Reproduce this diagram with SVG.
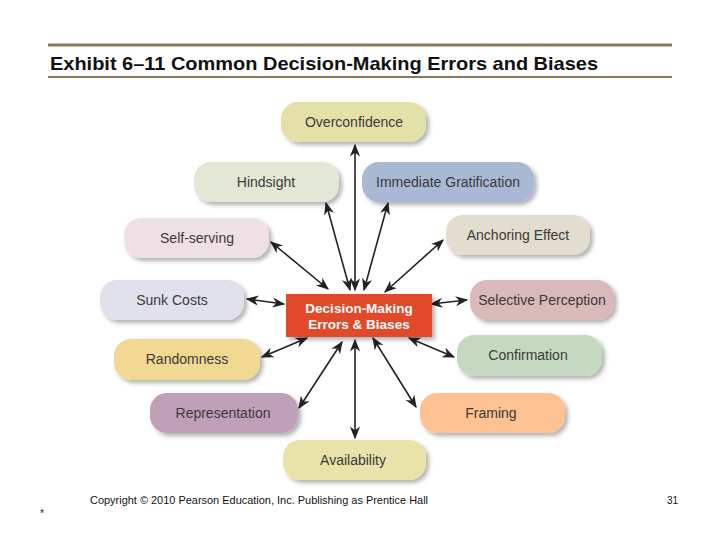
<svg xmlns="http://www.w3.org/2000/svg" width="720" height="540" viewBox="0 0 720 540">
<defs>
<filter id="sh" x="-20%" y="-30%" width="150%" height="170%"><feDropShadow dx="3" dy="3" stdDeviation="2" flood-color="#000" flood-opacity="0.3"/></filter>
<marker id="ah" viewBox="0 0 10 10" refX="9" refY="5" markerWidth="8" markerHeight="8" orient="auto-start-reverse"><path d="M0,1 L10,5 L0,9 L3,5 Z" fill="#222"/></marker>
<style>
.n rect{filter:url(#sh)}
.n text{font-family:"Liberation Sans",Arial,sans-serif;font-size:14px;fill:#3a3a3a;text-anchor:middle}
.c line{stroke:#222;stroke-width:1.6;marker-start:url(#ah);marker-end:url(#ah)}
.t{font-family:"Liberation Sans",Arial,sans-serif}
</style>
</defs>
<rect width="720" height="540" fill="#fff"/>
<line x1="48" y1="45" x2="672" y2="45" stroke="#8b7a55" stroke-width="3"/>
<line x1="48" y1="77" x2="672" y2="77" stroke="#8b7a55" stroke-width="2"/>
<text class="t" x="50" y="70" font-size="19" font-weight="bold" fill="#111" textLength="548" lengthAdjust="spacingAndGlyphs">Exhibit 6–11 Common Decision-Making Errors and Biases</text>
<g class="c">
<line x1="355" y1="145" x2="355" y2="290"/>
<line x1="355" y1="340" x2="355" y2="438"/>
<line x1="326" y1="203" x2="350" y2="290"/>
<line x1="388" y1="203" x2="364" y2="290"/>
<line x1="271" y1="242" x2="328" y2="289"/>
<line x1="443" y1="240" x2="385" y2="292"/>
<line x1="247" y1="299" x2="284" y2="304"/>
<line x1="431" y1="304" x2="467" y2="300"/>
<line x1="262" y1="357" x2="307" y2="338"/>
<line x1="409" y1="338" x2="454" y2="357"/>
<line x1="299" y1="408" x2="342" y2="342"/>
<line x1="416" y1="407" x2="373" y2="338"/>
</g>
<g id="overconfidence" class="n"><rect x="281" y="102" width="145" height="40" rx="17" fill="#e5e0a8"/><text x="354" y="127">Overconfidence</text></g>
<g id="hindsight" class="n"><rect x="194" y="162" width="145" height="40" rx="17" fill="#e3e8d6"/><text x="266" y="187">Hindsight</text></g>
<g id="immediate" class="n"><rect x="362" y="162" width="172" height="40" rx="17" fill="#a9b9d5"/><text x="448" y="187">Immediate Gratification</text></g>
<g id="selfserving" class="n"><rect x="124" y="218" width="145" height="40" rx="17" fill="#efe0e5"/><text x="197" y="243">Self-serving</text></g>
<g id="anchoring" class="n"><rect x="446" y="215" width="144" height="40" rx="17" fill="#e2ddce"/><text x="518" y="240">Anchoring Effect</text></g>
<g id="sunk" class="n"><rect x="100" y="280" width="144" height="40" rx="17" fill="#e1e1ed"/><text x="172" y="305">Sunk Costs</text></g>
<g id="selective" class="n"><rect x="470" y="280" width="144" height="40" rx="17" fill="#d9b9b9"/><text x="542" y="305">Selective Perception</text></g>
<g id="randomness" class="n"><rect x="114" y="339" width="146" height="41" rx="17" fill="#f1d992"/><text x="187" y="364">Randomness</text></g>
<g id="confirmation" class="n"><rect x="457" y="335" width="145" height="41" rx="17" fill="#c5d9c1"/><text x="528" y="360">Confirmation</text></g>
<g id="representation" class="n"><rect x="150" y="393" width="148" height="40" rx="17" fill="#c0a0b9"/><text x="223" y="418">Representation</text></g>
<g id="framing" class="n"><rect x="420" y="393" width="145" height="40" rx="17" fill="#fdc192"/><text x="491" y="418">Framing</text></g>
<g id="availability" class="n"><rect x="283" y="440" width="143" height="40" rx="17" fill="#e9e3aa"/><text x="353" y="465">Availability</text></g>
<g id="center" class="n"><rect x="286" y="294" width="146" height="43" fill="#e04a2a"/><text x="359" y="313" style="fill:#fff;font-weight:bold;font-size:13.5px">Decision-Making</text><text x="359" y="329" style="fill:#fff;font-weight:bold;font-size:13.5px">Errors &amp; Biases</text></g>
<text class="t" x="90" y="504" font-size="10.5" fill="#111" textLength="338" lengthAdjust="spacingAndGlyphs">Copyright © 2010 Pearson Education, Inc. Publishing as Prentice Hall</text>
<text class="t" x="667" y="504" font-size="10" fill="#111">31</text>
<text class="t" x="40" y="517" font-size="10" fill="#111">*</text>
</svg>
